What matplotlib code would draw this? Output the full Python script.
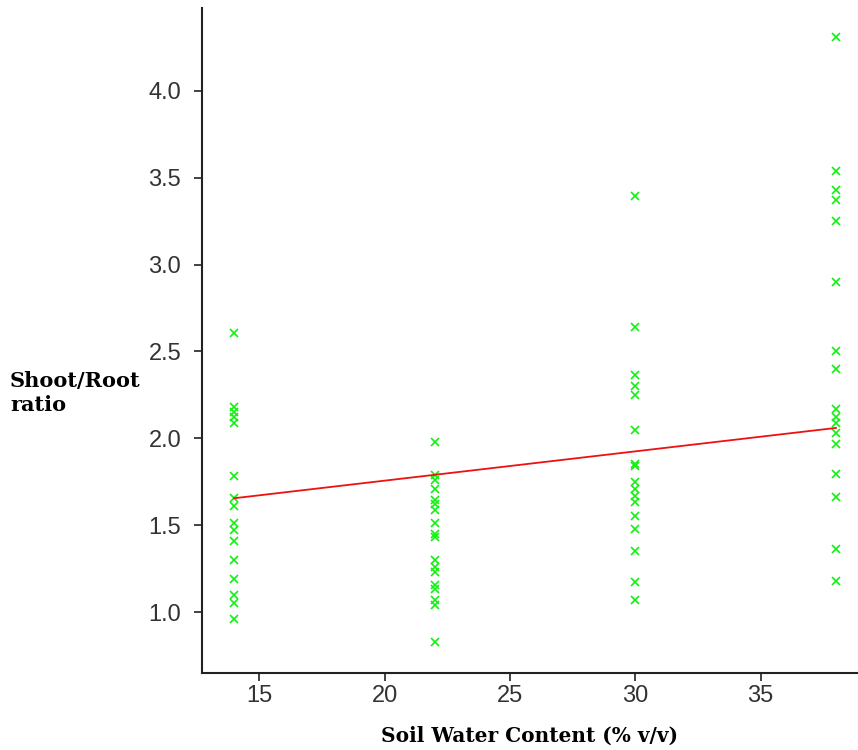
import matplotlib.pyplot as plt
import numpy as np

# soil water content levels (% v/v)
water_levels = [14, 22, 30, 38]

# shoot/root ratio readings per level
ratio_14 = [2.605, 2.18, 2.15, 2.12, 2.09, 1.785, 1.655, 1.61, 1.51, 1.47,
            1.41, 1.30, 1.19, 1.10, 1.05, 0.96]
ratio_22 = [1.98, 1.79, 1.76, 1.71, 1.645, 1.62, 1.59, 1.51, 1.45, 1.43,
            1.30, 1.26, 1.23, 1.155, 1.13, 1.07, 1.04, 0.83]
ratio_30 = [3.395, 2.64, 2.365, 2.30, 2.25, 2.05, 1.855, 1.84, 1.75, 1.71,
            1.67, 1.635, 1.55, 1.48, 1.35, 1.175, 1.07]
ratio_38 = [4.31, 3.54, 3.43, 3.37, 3.25, 2.90, 2.50, 2.40, 2.17, 2.12,
            2.09, 2.03, 1.97, 1.795, 1.66, 1.36, 1.18]

# fitted line end points
fit_x = [14, 38]
fit_y = [1.655, 2.06]

groups = [ratio_14, ratio_22, ratio_30, ratio_38]

fig = plt.figure(figsize=(8.58, 7.5), dpi=100)
ax = fig.add_axes([0.2354, 0.1027, 0.7646, 0.8867])

for w, vals in zip(water_levels, groups):
    ax.plot([w] * len(vals), vals, linestyle='none', marker='x',
            color='#11f011', markersize=6, markeredgewidth=1.2)

ax.plot(fit_x, fit_y, color='#ee1111', linewidth=1.3)

ax.set_xlim(12.72, 38.88)
ax.set_ylim(0.649, 4.478)
ax.set_xticks([15, 20, 25, 30, 35])
ax.set_yticks([1.0, 1.5, 2.0, 2.5, 3.0, 3.5, 4.0])
ax.set_yticklabels(['1.0', '1.5', '2.0', '2.5', '3.0', '3.5', '4.0'])

for s in ['top', 'right']:
    ax.spines[s].set_visible(False)
for s in ['left', 'bottom']:
    ax.spines[s].set_linewidth(1.5)
    ax.spines[s].set_color('#222222')

ax.tick_params(axis='both', direction='out', length=6, width=1.2,
               colors='#222222', labelsize=17, labelcolor='#333333')
ax.tick_params(axis='y', pad=9)
ax.tick_params(axis='x', pad=3)
for lab in ax.get_xticklabels() + ax.get_yticklabels():
    lab.set_family('Liberation Sans')

ax.set_xlabel('Soil Water Content (% v/v)', family='DejaVu Serif',
              fontweight='bold', fontsize=14.5, labelpad=13)
fig.text(0.0117, 0.476, 'Shoot/Root\nratio', family='DejaVu Serif',
         fontweight='bold', fontsize=15, ha='left', va='center',
         linespacing=1.3)

fig.savefig('out.png', dpi=100)
